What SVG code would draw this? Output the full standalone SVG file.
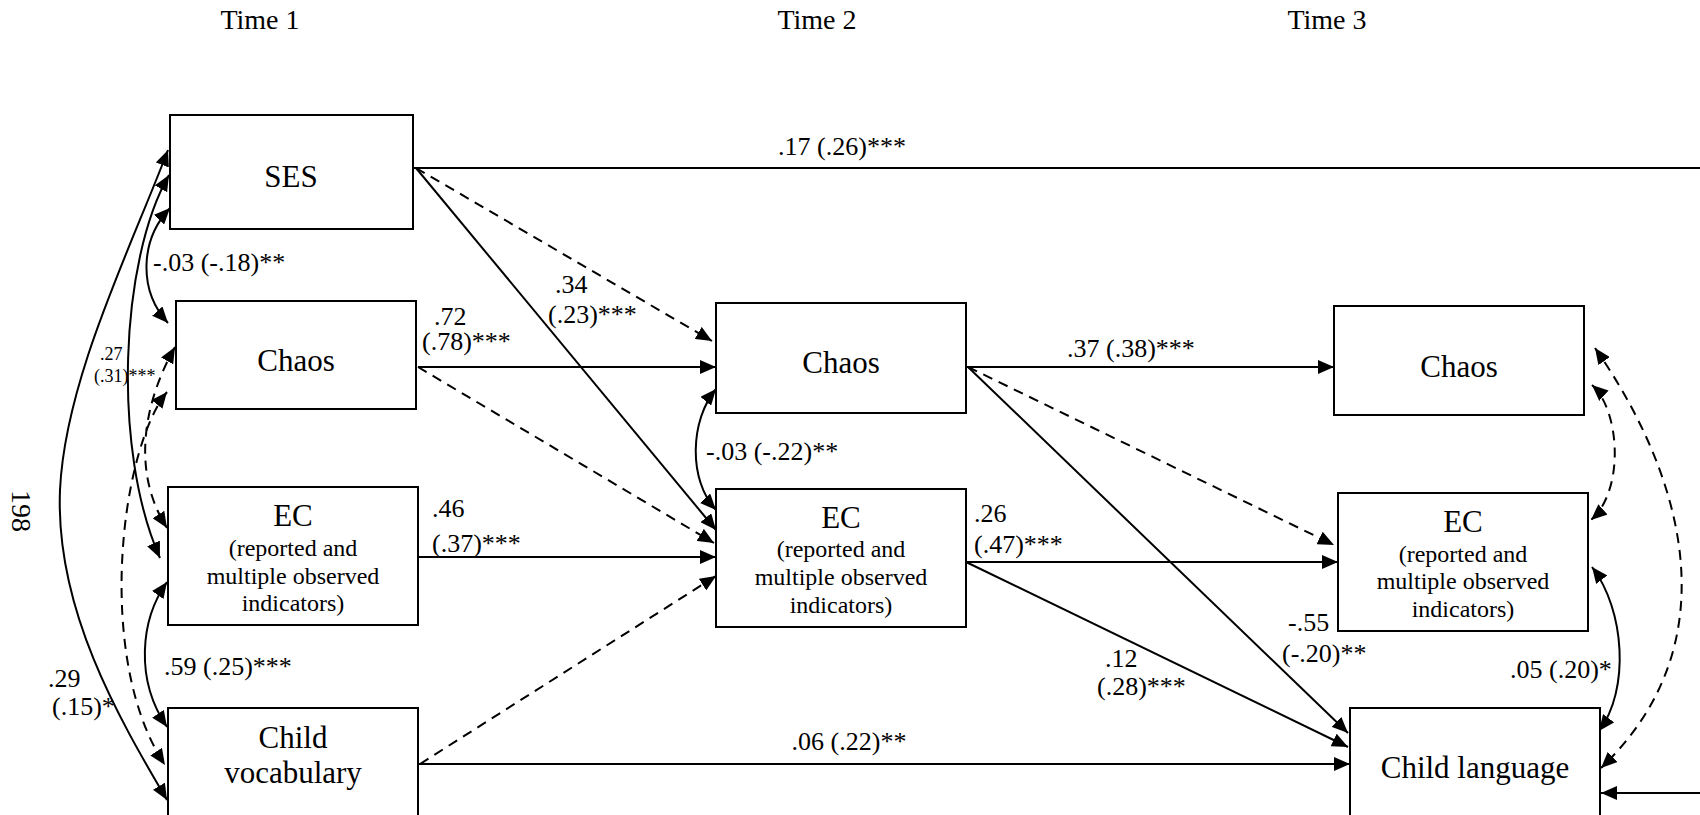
<svg xmlns="http://www.w3.org/2000/svg" width="1700" height="815" viewBox="0 0 1700 815">
<style>
  .box { fill: #fff; stroke: #000; stroke-width: 2; }
  .lbl { font-family: "Liberation Serif", "Times New Roman", serif; font-size: 31px; fill: #000; text-anchor: middle; }
  .sub { font-family: "Liberation Serif", "Times New Roman", serif; font-size: 24px; fill: #000; text-anchor: middle; }
  .ttl { font-family: "Liberation Serif", "Times New Roman", serif; font-size: 28px; fill: #000; text-anchor: middle; }
  .el { font-family: "Liberation Serif", "Times New Roman", serif; font-size: 26px; fill: #000; }
  .els { font-family: "Liberation Serif", "Times New Roman", serif; font-size: 18px; fill: #000; }
  .c { fill: none; stroke: #000; stroke-width: 2; }
  .d { stroke-dasharray: 10 7; }
  .one { marker-end: url(#ah); }
  .two { marker-start: url(#ah); marker-end: url(#ah); }
</style>
<defs>
  <marker id="ah" viewBox="0 0 16 14" refX="16" refY="7" markerWidth="16" markerHeight="14" markerUnits="userSpaceOnUse" orient="auto-start-reverse">
    <path d="M0,0 L16,7 L0,14 z" fill="#000"/>
  </marker>
</defs>
<rect width="1700" height="815" fill="#fff"/>

<g id="titles">
  <text class="ttl" x="260" y="29">Time 1</text>
  <text class="ttl" x="817" y="29">Time 2</text>
  <text class="ttl" x="1327" y="29">Time 3</text>
  <text class="ttl" transform="translate(12,511) rotate(90)" x="0" y="0">198</text>
</g>

<g id="connectors">
  <!-- SES to Child language (goes off page at right) -->
  <path class="c one" d="M413,168 H1712 V793 H1601"/>
  <path class="c d one" d="M416,168 L712,341"/>
  <path class="c one" d="M416,168 L716,530"/>
  <path class="c one" d="M418,367 L716,367"/>
  <path class="c d one" d="M418,367 L714,543"/>
  <path class="c one" d="M418,557 L716,557"/>
  <path class="c d one" d="M420,764 L716,576"/>
  <path class="c one" d="M418,764 L1350,764"/>
  <path class="c one" d="M966,367 L1334,367"/>
  <path class="c d one" d="M968,367 L1334,545"/>
  <path class="c one" d="M968,367 L1348,733"/>
  <path class="c one" d="M966,562 L1338,562"/>
  <path class="c one" d="M966,562 L1348,747"/>
  <!-- Time 2 covariance -->
  <path class="c two" d="M716,389 C690,420 688,480 716,510"/>
  <!-- Time 1 covariances -->
  <path class="c two" d="M170,208 C140,240 138,290 168,323"/>
  <path class="c two" d="M169,175 C120,260 112,450 160,558"/>
  <path class="c two" d="M168,150 C130,250 65,380 60,490 C55,610 120,720 167,800"/>
  <path class="c d two" d="M175,347 C145,400 130,470 167,528"/>
  <path class="c d two" d="M167,392 C120,450 95,660 165,765"/>
  <path class="c two" d="M167,582 C140,620 135,680 167,727"/>
  <!-- Time 3 covariances -->
  <path class="c d two" d="M1592,385 C1620,410 1625,490 1591,520"/>
  <path class="c d two" d="M1595,348 C1680,470 1735,640 1601,768"/>
  <path class="c two" d="M1592,567 C1625,610 1630,690 1599,731"/>
</g>

<g id="edge-labels">
  <text class="el" x="842" y="155" text-anchor="middle">.17 (.26)***</text>
  <text class="el" x="153" y="271">-.03 (-.18)**</text>
  <text class="el" x="555" y="293">.34</text>
  <text class="el" x="548" y="323">(.23)***</text>
  <text class="el" x="434" y="325">.72</text>
  <text class="el" x="422" y="350">(.78)***</text>
  <text class="els" x="100" y="360">.27</text>
  <text class="els" x="94" y="382">(.31)***</text>
  <text class="el" x="1067" y="357">.37 (.38)***</text>
  <text class="el" x="706" y="460">-.03 (-.22)**</text>
  <text class="el" x="432" y="517">.46</text>
  <text class="el" x="432" y="552">(.37)***</text>
  <text class="el" x="974" y="522">.26</text>
  <text class="el" x="974" y="553">(.47)***</text>
  <text class="el" x="1288" y="631">-.55</text>
  <text class="el" x="1282" y="662">(-.20)**</text>
  <text class="el" x="1105" y="667">.12</text>
  <text class="el" x="1097" y="695">(.28)***</text>
  <text class="el" x="1510" y="678">.05 (.20)*</text>
  <text class="el" x="164" y="675">.59 (.25)***</text>
  <text class="el" x="48" y="687">.29</text>
  <text class="el" x="52" y="715">(.15)*</text>
  <text class="el" x="849" y="750" text-anchor="middle">.06 (.22)**</text>
</g>

<g id="ses-t1">
  <rect class="box" x="170" y="115" width="243" height="114"/>
  <text class="lbl" x="291" y="187">SES</text>
</g>
<g id="chaos-t1">
  <rect class="box" x="176" y="301" width="240" height="108"/>
  <text class="lbl" x="296" y="371">Chaos</text>
</g>
<g id="ec-t1">
  <rect class="box" x="168" y="487" width="250" height="138"/>
  <text class="lbl" x="293" y="526">EC</text>
  <text class="sub" x="293" y="556">(reported and</text>
  <text class="sub" x="293" y="584">multiple observed</text>
  <text class="sub" x="293" y="611">indicators)</text>
</g>
<g id="vocab-t1">
  <rect class="box" x="168" y="708" width="250" height="120"/>
  <text class="lbl" x="293" y="748">Child</text>
  <text class="lbl" x="293" y="783">vocabulary</text>
</g>
<g id="chaos-t2">
  <rect class="box" x="716" y="303" width="250" height="110"/>
  <text class="lbl" x="841" y="373">Chaos</text>
</g>
<g id="ec-t2">
  <rect class="box" x="716" y="489" width="250" height="138"/>
  <text class="lbl" x="841" y="528">EC</text>
  <text class="sub" x="841" y="557">(reported and</text>
  <text class="sub" x="841" y="585">multiple observed</text>
  <text class="sub" x="841" y="613">indicators)</text>
</g>
<g id="chaos-t3">
  <rect class="box" x="1334" y="306" width="250" height="109"/>
  <text class="lbl" x="1459" y="377">Chaos</text>
</g>
<g id="ec-t3">
  <rect class="box" x="1338" y="493" width="250" height="138"/>
  <text class="lbl" x="1463" y="532">EC</text>
  <text class="sub" x="1463" y="562">(reported and</text>
  <text class="sub" x="1463" y="589">multiple observed</text>
  <text class="sub" x="1463" y="617">indicators)</text>
</g>
<g id="language-t3">
  <rect class="box" x="1350" y="708" width="250" height="120"/>
  <text class="lbl" x="1475" y="778">Child language</text>
</g>
</svg>
